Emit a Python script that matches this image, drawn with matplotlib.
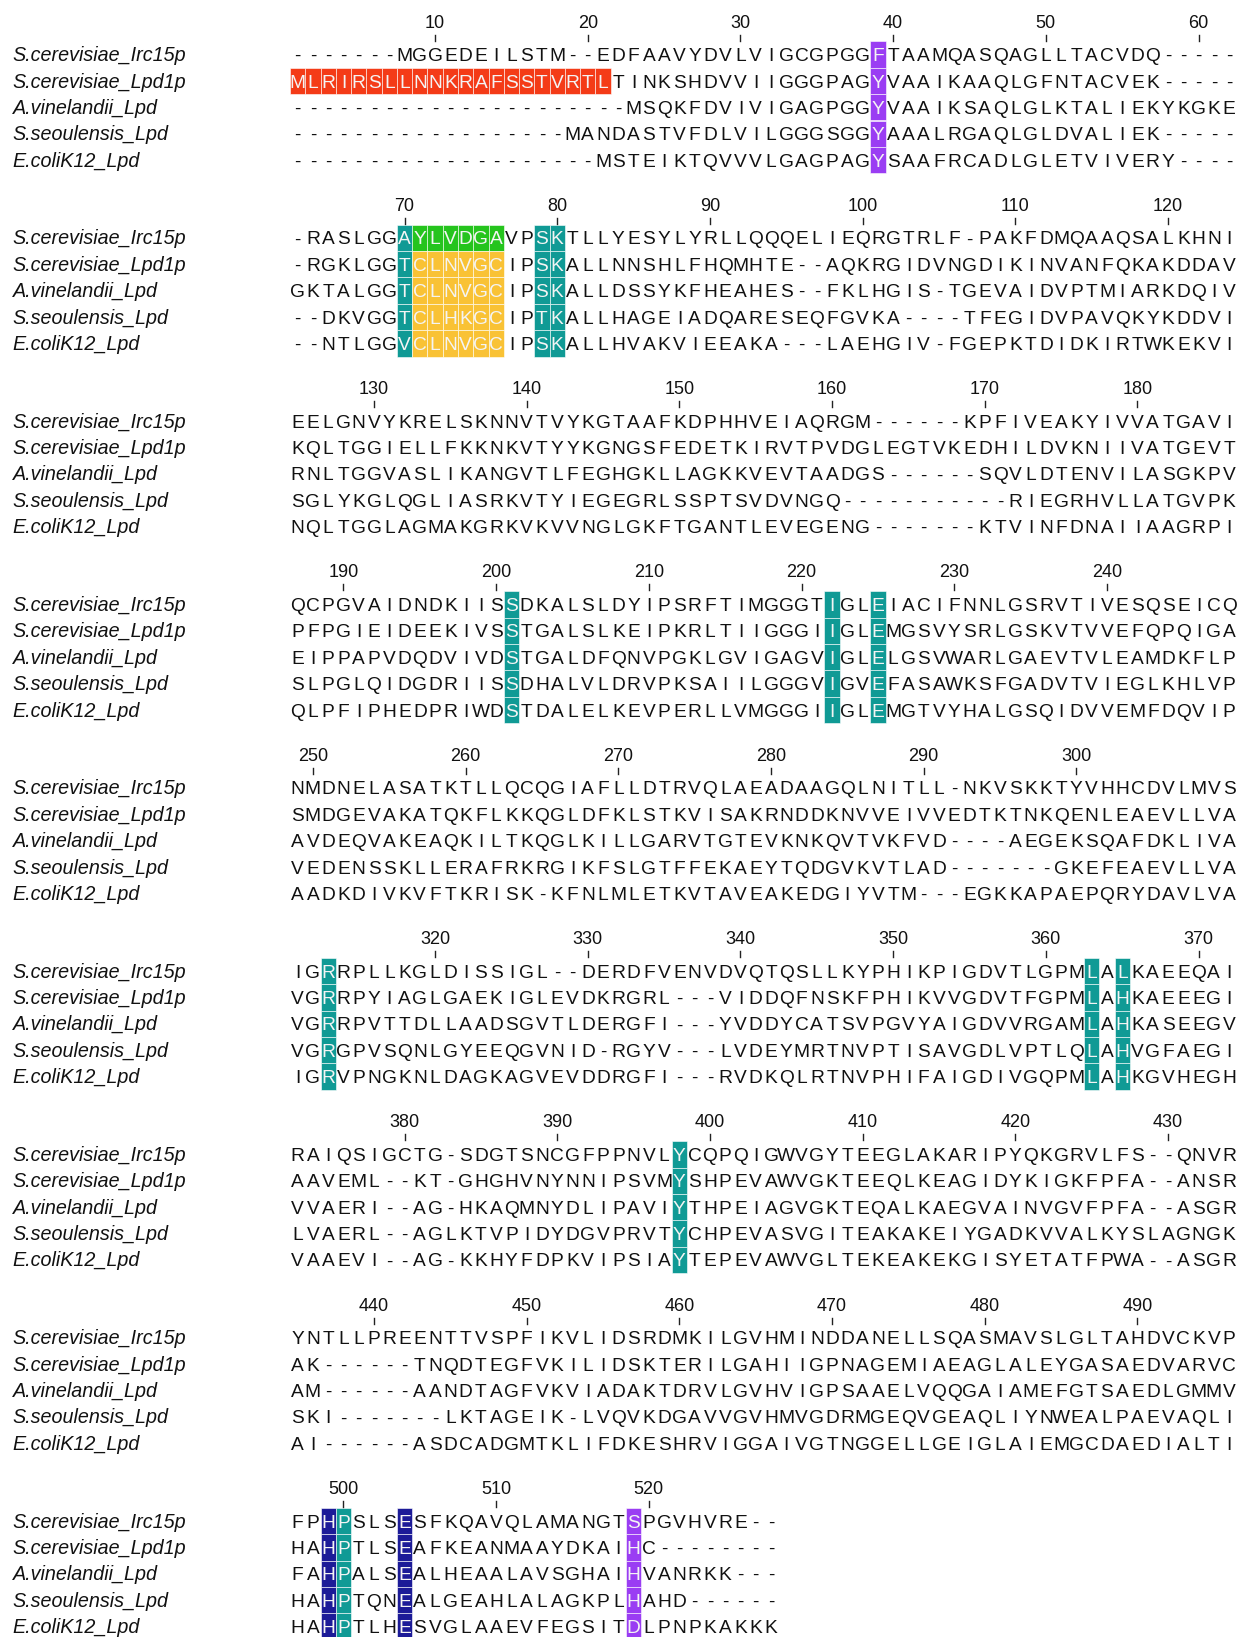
import matplotlib.pyplot as plt
from matplotlib.patches import Rectangle

# sequence names, top to bottom
names = [
    "S.cerevisiae_Irc15p",
    "S.cerevisiae_Lpd1p",
    "A.vinelandii_Lpd",
    "S.seoulensis_Lpd",
    "E.coliK12_Lpd",
]

# aligned sequences, written 62 columns per line as in the printed alignment
irc15p = (
    "-------MGGEDEILSTM--EDFAAVYDVLVIGCGPGGFTAAMQASQAGLLTACVDQ-----",
    "-RASLGGAYLVDGAVPSKTLLYESYLYRLLQQQELIEQRGTRLF-PAKFDMQAAQSALKHNI",
    "EELGNVYKRELSKNNVTVYKGTAAFKDPHHVEIAQRGM------KPFIVEAKYIVVATGAVI",
    "QCPGVAIDNDKIISSDKALSLDYIPSRFTIMGGGTIGLEIACIFNNLGSRVTIVESQSEICQ",
    "NMDNELASATKTLLQCQGIAFLLDTRVQLAEADAAGQLNITLL-NKVSKKTYVHHCDVLMVS",
    "IGRRPLLKGLDISSIGL--DERDFVENVDVQTQSLLKYPHIKPIGDVTLGPMLALKAEEQAI",
    "RAIQSIGCTG-SDGTSNCGFPPNVLYCQPQIGWVGYTEEGLAKARIPYQKGRVLFS--QNVR",
    "YNTLLPREENTTVSPFIKVLIDSRDMKILGVHMINDDANELLSQASMAVSLGLTAHDVCKVP",
    "FPHPSLSESFKQAVQLAMANGTSPGVHVRE--",
)
lpd1p = (
    "MLRIRSLLNNKRAFSSTVRTLTINKSHDVVIIGGGPAGYVAAIKAAQLGFNTACVEK-----",
    "-RGKLGGTCLNVGCIPSKALLNNSHLFHQMHTE--AQKRGIDVNGDIKINVANFQKAKDDAV",
    "KQLTGGIELLFKKNKVTYYKGNGSFEDETKIRVTPVDGLEGTVKEDHILDVKNIIVATGEVT",
    "PFPGIEIDEEKIVSSTGALSLKEIPKRLTIIGGGIIGLEMGSVYSRLGSKVTVVEFQPQIGA",
    "SMDGEVAKATQKFLKKQGLDFKLSTKVISAKRNDDKNVVEIVVEDTKTNKQENLEAEVLLVA",
    "VGRRPYIAGLGAEKIGLEVDKRGRL---VIDDQFNSKFPHIKVVGDVTFGPMLAHKAEEEGI",
    "AAVEML--KT-GHGHVNYNNIPSVMYSHPEVAWVGKTEEQLKEAGIDYKIGKFPFA--ANSR",
    "AK------TNQDTEGFVKILIDSKTERILGAHIIGPNAGEMIAEAGLALEYGASAEDVARVC",
    "HAHPTLSEAFKEANMAAYDKAIHC--------",
)
avin = (
    "----------------------MSQKFDVIVIGAGPGGYVAAIKSAQLGLKTALIEKYKGKE",
    "GKTALGGTCLNVGCIPSKALLDSSYKFHEAHES--FKLHGIS-TGEVAIDVPTMIARKDQIV",
    "RNLTGGVASLIKANGVTLFEGHGKLLAGKKVEVTAADGS------SQVLDTENVILASGKPV",
    "EIPPAPVDQDVIVDSTGALDFQNVPGKLGVIGAGVIGLELGSVWARLGAEVTVLEAMDKFLP",
    "AVDEQVAKEAQKILTKQGLKILLGARVTGTEVKNKQVTVKFVD----AEGEKSQAFDKLIVA",
    "VGRRPVTTDLLAADSGVTLDERGFI---YVDDYCATSVPGVYAIGDVVRGAMLAHKASEEGV",
    "VVAERI--AG-HKAQMNYDLIPAVIYTHPEIAGVGKTEQALKAEGVAINVGVFPFA--ASGR",
    "AM------AANDTAGFVKVIADAKTDRVLGVHVIGPSAAELVQQGAIAMEFGTSAEDLGMMV",
    "FAHPALSEALHEAALAVSGHAIHVANRKK---",
)
sseo = (
    "------------------MANDASTVFDLVILGGGSGGYAAALRGAQLGLDVALIEK-----",
    "--DKVGGTCLHKGCIPTKALLHAGEIADQARESEQFGVKA----TFEGIDVPAVQKYKDDVI",
    "SGLYKGLQGLIASRKVTYIEGEGRLSSPTSVDVNGQ-----------RIEGRHVLLATGVPK",
    "SLPGLQIDGDRIISSDHALVLDRVPKSAIILGGGVIGVEFASAWKSFGADVTVIEGLKHLVP",
    "VEDENSSKLLERAFRKRGIKFSLGTFFEKAEYTQDGVKVTLAD-------GKEFEAEVLLVA",
    "VGRGPVSQNLGYEEQGVNID-RGYV---LVDEYMRTNVPTISAVGDLVPTLQLAHVGFAEGI",
    "LVAERL--AGLKTVPIDYDGVPRVTYCHPEVASVGITEAKAKEIYGADKVVALKYSLAGNGK",
    "SKI-------LKTAGEIK-LVQVKDGAVVGVHMVGDRMGEQVGEAQLIYNWEALPAEVAQLI",
    "HAHPTQNEALGEAHLALAGKPLHAHD------",
)
ecoli = (
    "--------------------MSTEIKTQVVVLGAGPAGYSAAFRCADLGLETVIVERY----",
    "--NTLGGVCLNVGCIPSKALLHVAKVIEEAKA---LAEHGIV-FGEPKTDIDKIRTWKEKVI",
    "NQLTGGLAGMAKGRKVKVVNGLGKFTGANTLEVEGENG-------KTVINFDNAIIAAGRPI",
    "QLPFIPHEDPRIWDSTDALELKEVPERLLVMGGGIIGLEMGTVYHALGSQIDVVEMFDQVIP",
    "AADKDIVKVFTKRISK-KFNLMLETKVTAVEAKEDGIYVTM---EGKKAPAEPQRYDAVLVA",
    "IGRVPNGKNLDAGKAGVEVDDRGFI---RVDKQLRTNVPHIFAIGDIVGQPMLAHKGVHEGH",
    "VAAEVI--AG-KKHYFDPKVIPSIAYTEPEVAWVGLTEKEAKEKGISYETATFPWA--ASGR",
    "AI------ASDCADGMTKLIFDKESHRVIGGAIVGTNGGELLGEIGLAIEMGCDAEDIALTI",
    "HAHPTLHESVGLAAEVFEGSITDLPNPKAKKK",
)

# highlighted alignment columns (1-based)
signal_cols = list(range(1, 22))          # Lpd1p presequence
motif_cols = [71, 72, 73, 74, 75, 76]     # CLNVGC redox-active motif
purple_cols = [39, 519]
teal_cols = [70, 79, 80, 201, 222, 225, 313, 363, 365, 398, 500]
navy_cols = [499, 504]

RED = "#f43b17"
PURPLE = "#9a3df3"
TEAL = "#109a95"
GREEN = "#25c41d"
AMBER = "#f9c235"
NAVY = "#1c1b98"

seqs = []
for parts in (irc15p, lpd1p, avin, sseo, ecoli):
    for p in parts[:-1]:
        assert len(p) == 62, p
    seqs.append("".join(parts))
ncol = len(seqs[0])
assert all(len(s) == ncol for s in seqs)

# cell colours: (row, col) -> colour
colors = {}
for c in signal_cols:
    colors[(1, c)] = RED
for c in motif_cols:
    for r in range(5):
        colors[(r, c)] = GREEN if r == 0 else AMBER
for cols, col in ((purple_cols, PURPLE), (teal_cols, TEAL), (navy_cols, NAVY)):
    for c in cols:
        for r in range(5):
            colors[(r, c)] = col

# layout in pixels
W, H = 1237, 1637
per_line = 62
x0, cw = 290.0, 15.27
y0, rh, bh = 54.5, 26.4, 183.3

seq_font = ["Liberation Sans Narrow", "Liberation Sans", "DejaVu Sans"]

fig = plt.figure(figsize=(W / 100, H / 100), dpi=100)
ax = fig.add_axes([0, 0, 1, 1])
ax.set_xlim(0, W)
ax.set_ylim(H, 0)
ax.axis("off")

nblocks = (ncol + per_line - 1) // per_line
for b in range(nblocks):
    top = y0 + b * bh
    # position ruler
    for c in range(b * per_line + 1, min((b + 1) * per_line, ncol) + 1):
        i = c - 1 - b * per_line
        if c % 10 == 0 and i < per_line - 1:
            xc = x0 + (i + 0.5) * cw
            ax.text(xc, top - 27, str(c), ha="center", va="baseline",
                    fontsize=13, family=seq_font, color="#111111")
            ax.plot([xc, xc], [top - 20, top - 14], color="#222222", lw=1.0)
    for r, (name, s) in enumerate(zip(names, seqs)):
        y = top + r * rh
        ax.text(12.5, y + 6.6, name, ha="left", va="baseline",
                fontsize=14.2, style="italic", family="Liberation Sans",
                color="#111111")
        for i, ch in enumerate(s[b * per_line:(b + 1) * per_line]):
            c = b * per_line + i + 1
            xc = x0 + (i + 0.5) * cw
            fc = colors.get((r, c))
            tc = "#111111"
            if fc is not None:
                ax.add_patch(Rectangle((xc - cw / 2, y - rh / 2), cw, rh,
                                       facecolor=fc, edgecolor="#ffffff",
                                       lw=0.4, alpha=1.0))
                tc = "#f4f4f4"
            ax.text(xc, y + 6.6, ch, ha="center", va="baseline",
                    fontsize=13.8, family=seq_font, color=tc)

fig.savefig("out.png", dpi=100)
